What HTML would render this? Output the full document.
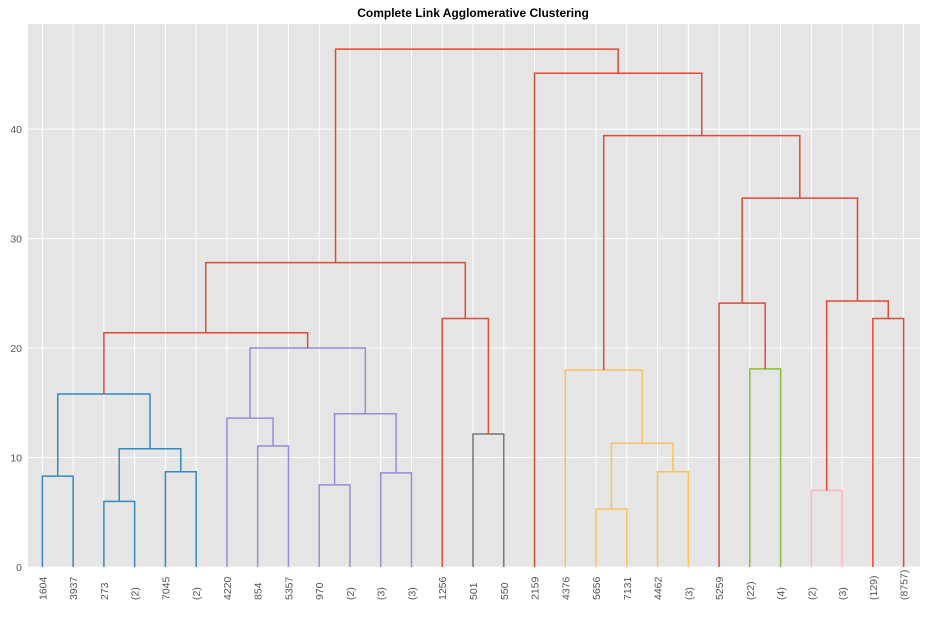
<!DOCTYPE html>
<html><head><meta charset="utf-8"><style>
body{margin:0;background:#fff;font-family:"Liberation Sans","DejaVu Sans",sans-serif}
</style></head><body>
<svg id="chart" width="926" height="614" xmlns="http://www.w3.org/2000/svg"></svg>
<script>
const leafLabels=["1604","3937","273","(2)","7045","(2)","4220","854","5357","970","(2)","(3)","(3)","1256","501","550","2159","4376","5656","7131","4462","(3)","5259","(22)","(4)","(2)","(3)","(129)","(8757)"];
// merges: [leftId, rightId]; ids < 29 are leaves, ids >= 29 are earlier merges
const mergePairs=[[0,1],[2,3],[4,5],[30,31],[29,32],[7,8],[6,34],[9,10],[11,12],[36,37],[35,38],[33,39],[14,15],[13,41],[40,42],[18,19],[20,21],[44,45],[17,46],[23,24],[22,48],[25,26],[27,28],[50,51],[49,52],[47,53],[16,54],[43,55]];
const mergeHeights=[8.3,6.0,8.7,10.8,15.8,11.05,13.6,7.5,8.6,14.0,20.0,21.4,12.15,22.7,27.8,5.3,8.7,11.3,18.0,18.1,24.1,7.0,22.7,24.3,33.7,39.4,45.1,47.3];
const mergeColors=["b","b","b","b","b","p","p","p","p","p","p","r","g","r","r","y","y","y","y","gr","r","pk","r","r","r","r","r","r"];
const yTicks=[0,10,20,30,40];
const palette={b:"#348ABD",p:"#988ED5",r:"#E24A33",g:"#777777",y:"#FBC15E",gr:"#8EBA42",pk:"#FFB5B8"};
const L=28,R=920,T=24,B=567,ymax=49.6;
const X=v=>L-1+(v/(leafLabels.length*10))*(R-L);
const Y=v=>B-(v/ymax)*(B-T);
const svg=document.getElementById('chart');
const NS="http://www.w3.org/2000/svg";
function mk(tag,attrs,parent){const e=document.createElementNS(NS,tag);for(const k in attrs)e.setAttribute(k,attrs[k]);(parent||svg).appendChild(e);return e;}
const bg=mk('rect',{x:L,y:T,width:R-L,height:B-T,fill:"#E5E5E5"});


const grid=mk('g',{});


leafLabels.forEach((lab,i)=>{const x=X(5+10*i);
 const gl=mk('line',{x1:x,x2:x,y1:T,y2:B,stroke:"#fff","stroke-width":1},grid);
 
 
 const t=mk('text',{x:0,y:0,transform:`translate(${x+4},${B+33}) rotate(-90)`,"font-size":10.5,fill:"#555","text-anchor":"start"});
 t.textContent=lab;
 
 
});
yTicks.forEach(v=>{const y=Y(v);
 const gl=mk('line',{x1:L,x2:R,y1:y,y2:y,stroke:"#fff","stroke-width":1},grid);
 
 
 const t=mk('text',{x:L-6,y:y+4,"font-size":10.5,fill:"#555","text-anchor":"end"});
 t.textContent=v;
 
 
});
const pos=leafLabels.map((_,i)=>5+10*i), hgt=leafLabels.map(()=>0);
const links=mk('g',{});


mergePairs.forEach((p,k)=>{const a=p[0],b=p[1],h=mergeHeights[k];
 const xa=X(pos[a]),xb=X(pos[b]),yh=Y(h);
 const pl=mk('polyline',{points:`${xa},${Y(hgt[a])} ${xa},${yh} ${xb},${yh} ${xb},${Y(hgt[b])}`,fill:"none",stroke:palette[mergeColors[k]],"stroke-width":1.5},links);
 
 
 pos.push((pos[a]+pos[b])/2);hgt.push(h);
});
const title=mk('text',{x:(L+R)/2-1,y:17,"font-size":12,"font-weight":"bold","text-anchor":"middle",fill:"#000"});
title.textContent="Complete Link Agglomerative Clustering";


</script>
</body></html>
